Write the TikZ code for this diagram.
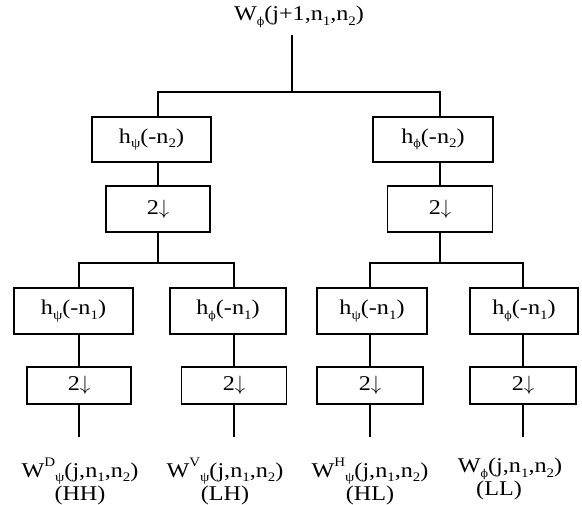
\documentclass[tikz,border=0pt]{standalone}
\usepackage{fontspec}
\setmainfont{Liberation Serif}[FakeStretch=1.15]
\newfontfamily\grk{DejaVu Serif}
\usetikzlibrary{positioning,calc}

% small raised / lowered indices at fixed size
\newcommand{\lo}[1]{\raisebox{-.22em}{\fontsize{13}{13}\selectfont#1}}
\newcommand{\hi}[1]{\raisebox{.5em}{\fontsize{13}{13}\selectfont#1}}
\newcommand{\fy}{{\grk\fontsize{11}{11}\selectfont ϕ}}

\begin{document}
\begin{tikzpicture}[x=1pt,y=-1pt,
  font=\fontsize{21}{22}\selectfont,
  wire/.style={line width=1.8pt},
  flt/.style={draw,line width=1.8pt,inner sep=0pt,minimum height=45pt},
  dwn/.style={draw,line width=1.8pt,inner sep=0pt},
  res/.style={align=center,inner sep=0pt,anchor=north,font=\fontsize{21}{21}\selectfont}]
  \useasboundingbox (0,0) rectangle (582,505);

  \node[anchor=base,inner sep=2pt] (top) at (299,21) {W\lo{\fy}(j+1,n\lo{1},n\lo{2})};

  % first stage (columns)
  \node[flt,minimum width=119pt] (hy2) at (151.5,139.5) {h\lo{ψ}(-n\lo{2})};
  \node[dwn,minimum width=104pt,minimum height=46pt] (d1) at (158,209) {2$\downarrow$};
  \node[flt,minimum width=120pt] (hf2) at (433,139.5) {h\lo{\fy}(-n\lo{2})};
  \node[dwn,minimum width=105pt,minimum height=46pt] (d2) at (440,209) {2$\downarrow$};

  % second stage (rows)
  \node[flt,minimum width=119pt,minimum height=46pt] (hy1a) at (73.5,311) {h\lo{ψ}(-n\lo{1})};
  \node[flt,minimum width=116pt,minimum height=46pt] (hf1a) at (228,311) {h\lo{\fy}(-n\lo{1})};
  \node[flt,minimum width=110pt,minimum height=46pt] (hy1b) at (372,311) {h\lo{ψ}(-n\lo{1})};
  \node[flt,minimum width=108pt,minimum height=46pt] (hf1b) at (524,311) {h\lo{\fy}(-n\lo{1})};
  \node[dwn,minimum width=104pt,minimum height=37pt] (d3) at (79,385.5) {2$\downarrow$};
  \node[dwn,minimum width=105pt,minimum height=37pt] (d4) at (234,385.5) {2$\downarrow$};
  \node[dwn,minimum width=106pt,minimum height=37pt] (d5) at (370,385.5) {2$\downarrow$};
  \node[dwn,minimum width=106pt,minimum height=37pt] (d6) at (523,385.5) {2$\downarrow$};

  % outputs
  \node[res] (w3) at (80,458) {W\hi{D}\lo{ψ}(j,n\lo{1},n\lo{2})\\(HH)};
  \node[res] (w4) at (225,458) {W\hi{V}\lo{ψ}(j,n\lo{1},n\lo{2})\\(LH)};
  \node[res] (w5) at (370,458) {W\hi{H}\lo{ψ}(j,n\lo{1},n\lo{2})\\(HL)};
  \node[res] (w6) at (510,458) {W\lo{\fy}(j,n\lo{1},n\lo{2})\\(LL)\hspace*{22pt}};

  \coordinate (t0) at (292,35);
  \coordinate (j0) at (292,92);
  \coordinate (j1) at (158,263);
  \coordinate (j2) at (440,263);
  \coordinate (e3) at (79,437);
  \coordinate (e4) at (234,437);
  \coordinate (e5) at (370,437);
  \coordinate (e6) at (523,437);

  \draw[wire] (t0) -- (j0);
  \draw[wire] (hy2.north -| d1) |- (j0) -| (hf2.north -| d2);
  \draw[wire] (hy2.south -| d1) -- (d1); \draw[wire] (hf2.south -| d2) -- (d2);
  \draw[wire] (d1) -- (j1); \draw[wire] (d2) -- (j2);
  \draw[wire] (hy1a.north -| d3) |- (j1) -| (hf1a.north -| d4);
  \draw[wire] (hy1b.north -| d5) |- (j2) -| (hf1b.north -| d6);
  \draw[wire] (hy1a.south -| d3) -- (d3); \draw[wire] (hf1a.south -| d4) -- (d4);
  \draw[wire] (hy1b.south -| d5) -- (d5); \draw[wire] (hf1b.south -| d6) -- (d6);
  \draw[wire] (d3) -- (e3); \draw[wire] (d4) -- (e4);
  \draw[wire] (d5) -- (e5); \draw[wire] (d6) -- (e6);
\end{tikzpicture}
\end{document}
